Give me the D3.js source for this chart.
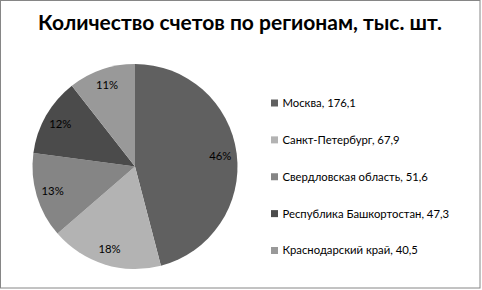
<!DOCTYPE html>
<html>
<head>
<meta charset="utf-8">
<script src="https://cdn.jsdelivr.net/npm/d3@7"></script>
<style>
  body { margin: 0; background: #fff; }
  text { font-family: Lato, "Open Sans", sans-serif; }
</style>
</head>
<body>
<div id="chart"></div>
<script>
// data
const regions = ["Москва", "Санкт-Петербург", "Свердловская область", "Республика Башкортостан", "Краснодарский край"]
const legendLabels = ["Москва, 176,1", "Санкт-Петербург, 67,9", "Свердловская область, 51,6", "Республика Башкортостан, 47,3", "Краснодарский край, 40,5"]
const accounts = [176.1, 67.9, 51.6, 47.3, 40.5]
const shades = ["#606060", "#b3b3b3", "#858585", "#4b4b4b", "#999999"]
const title = "Количество счетов по регионам, тыс. шт."

function drawChart() {
    const dims = { width: 482, height: 290 }
    const pie = { cx: 135, cy: 166.5, r: 102.5, labelR: 86 }

    const svg = d3.select("#chart").append("svg")
        .attr("width", dims.width)
        .attr("height", dims.height)

    // frame
    svg.append("rect")
        .attr("x", 0.5).attr("y", 0.5)
        .attr("width", 479.5).attr("height", 287.5)
        .attr("fill", "#fff")
        .attr("stroke", "#868686")
        .attr("stroke-width", 1)

    svg.append("text")
        .attr("x", 240).attr("y", 30)
        .attr("text-anchor", "middle")
        .attr("font-size", 21)
        .attr("font-weight", "bold")
        .attr("fill", "#000")
        .text(title)

    const data = regions.map((r, i) => ({ region: r, value: accounts[i], label: legendLabels[i] }))
    const total = d3.sum(accounts)

    const color = d3.scaleOrdinal().domain(regions).range(shades)

    const pieGen = d3.pie().value(d => d.value).sort(null)
    const arcs = pieGen(data)
    const arc = d3.arc().innerRadius(0).outerRadius(pie.r)
    const labelArc = d3.arc().innerRadius(pie.labelR).outerRadius(pie.labelR)

    const g = svg.append("g").attr("transform", `translate(${pie.cx},${pie.cy})`)

    g.selectAll("path")
        .data(arcs)
        .join("path")
        .attr("d", arc)
        .attr("fill", d => color(d.data.region))

    g.selectAll("text")
        .data(arcs)
        .join("text")
        .attr("transform", d => `translate(${labelArc.centroid(d)})`)
        .attr("text-anchor", "middle")
        .attr("dy", "0.35em")
        .attr("font-size", 11.3)
        .attr("fill", "#000")
        .text(d => Math.round(d.data.value / total * 100) + "%")

    // legend
    const legendY = d3.scalePoint().domain(regions).range([103, 250.5])

    const legend = svg.append("g")
    const item = legend.selectAll("g")
        .data(data)
        .join("g")
        .attr("transform", d => `translate(271,${legendY(d.region)})`)

    item.append("rect")
        .attr("x", 0).attr("y", -3.5)
        .attr("width", 7).attr("height", 7)
        .attr("fill", d => color(d.region))

    item.append("text")
        .attr("x", 11.5)
        .attr("dy", "0.35em")
        .attr("font-size", 11.3)
        .attr("fill", "#000")
        .text(d => d.label)
}
drawChart()
</script>
</body>
</html>
